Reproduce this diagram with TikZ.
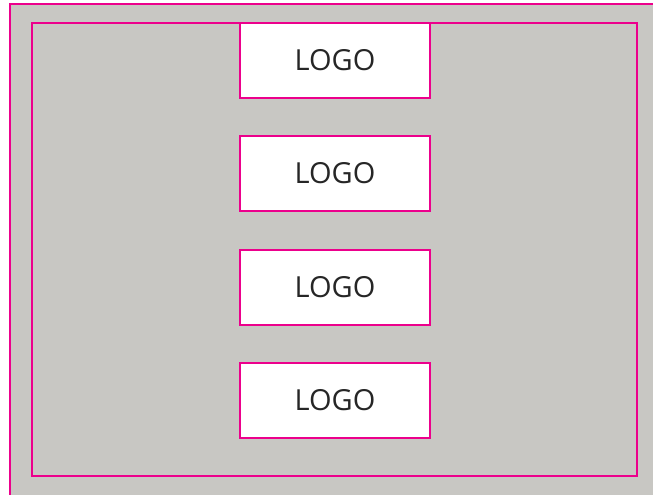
\documentclass[tikz,border=0pt]{standalone}
\usepackage{fontspec}
\setmainfont{Open Sans}
\usetikzlibrary{positioning}
\definecolor{panelgray}{RGB}{200,199,195}
\definecolor{guidepink}{RGB}{236,0,140}
\tikzset{
  logobox/.style={draw=guidepink,line width=1.2pt,fill=white,minimum width=190pt,
    minimum height=75pt,inner sep=0pt,font=\fontsize{29}{31}\selectfont,text=black!85}
}

\begin{document}
\begin{tikzpicture}[x=1pt,y=-1pt]
  \useasboundingbox (0,0) rectangle (653,495);
  \clip (0,0) rectangle (653,495);

  % outer panel
  \draw[guidepink,line width=1.5pt,fill=panelgray] (10,4) rectangle (670,510);
  % safe area
  \draw[guidepink,line width=1.2pt] (32,23) rectangle (637,476);

  % logo slots
  \foreach \i/\y in {1/60.5,2/173.5,3/287.5,4/400.5}{
    \node[logobox] (logo\i) at (335,\y) {LOGO};
  }
\end{tikzpicture}
\end{document}
